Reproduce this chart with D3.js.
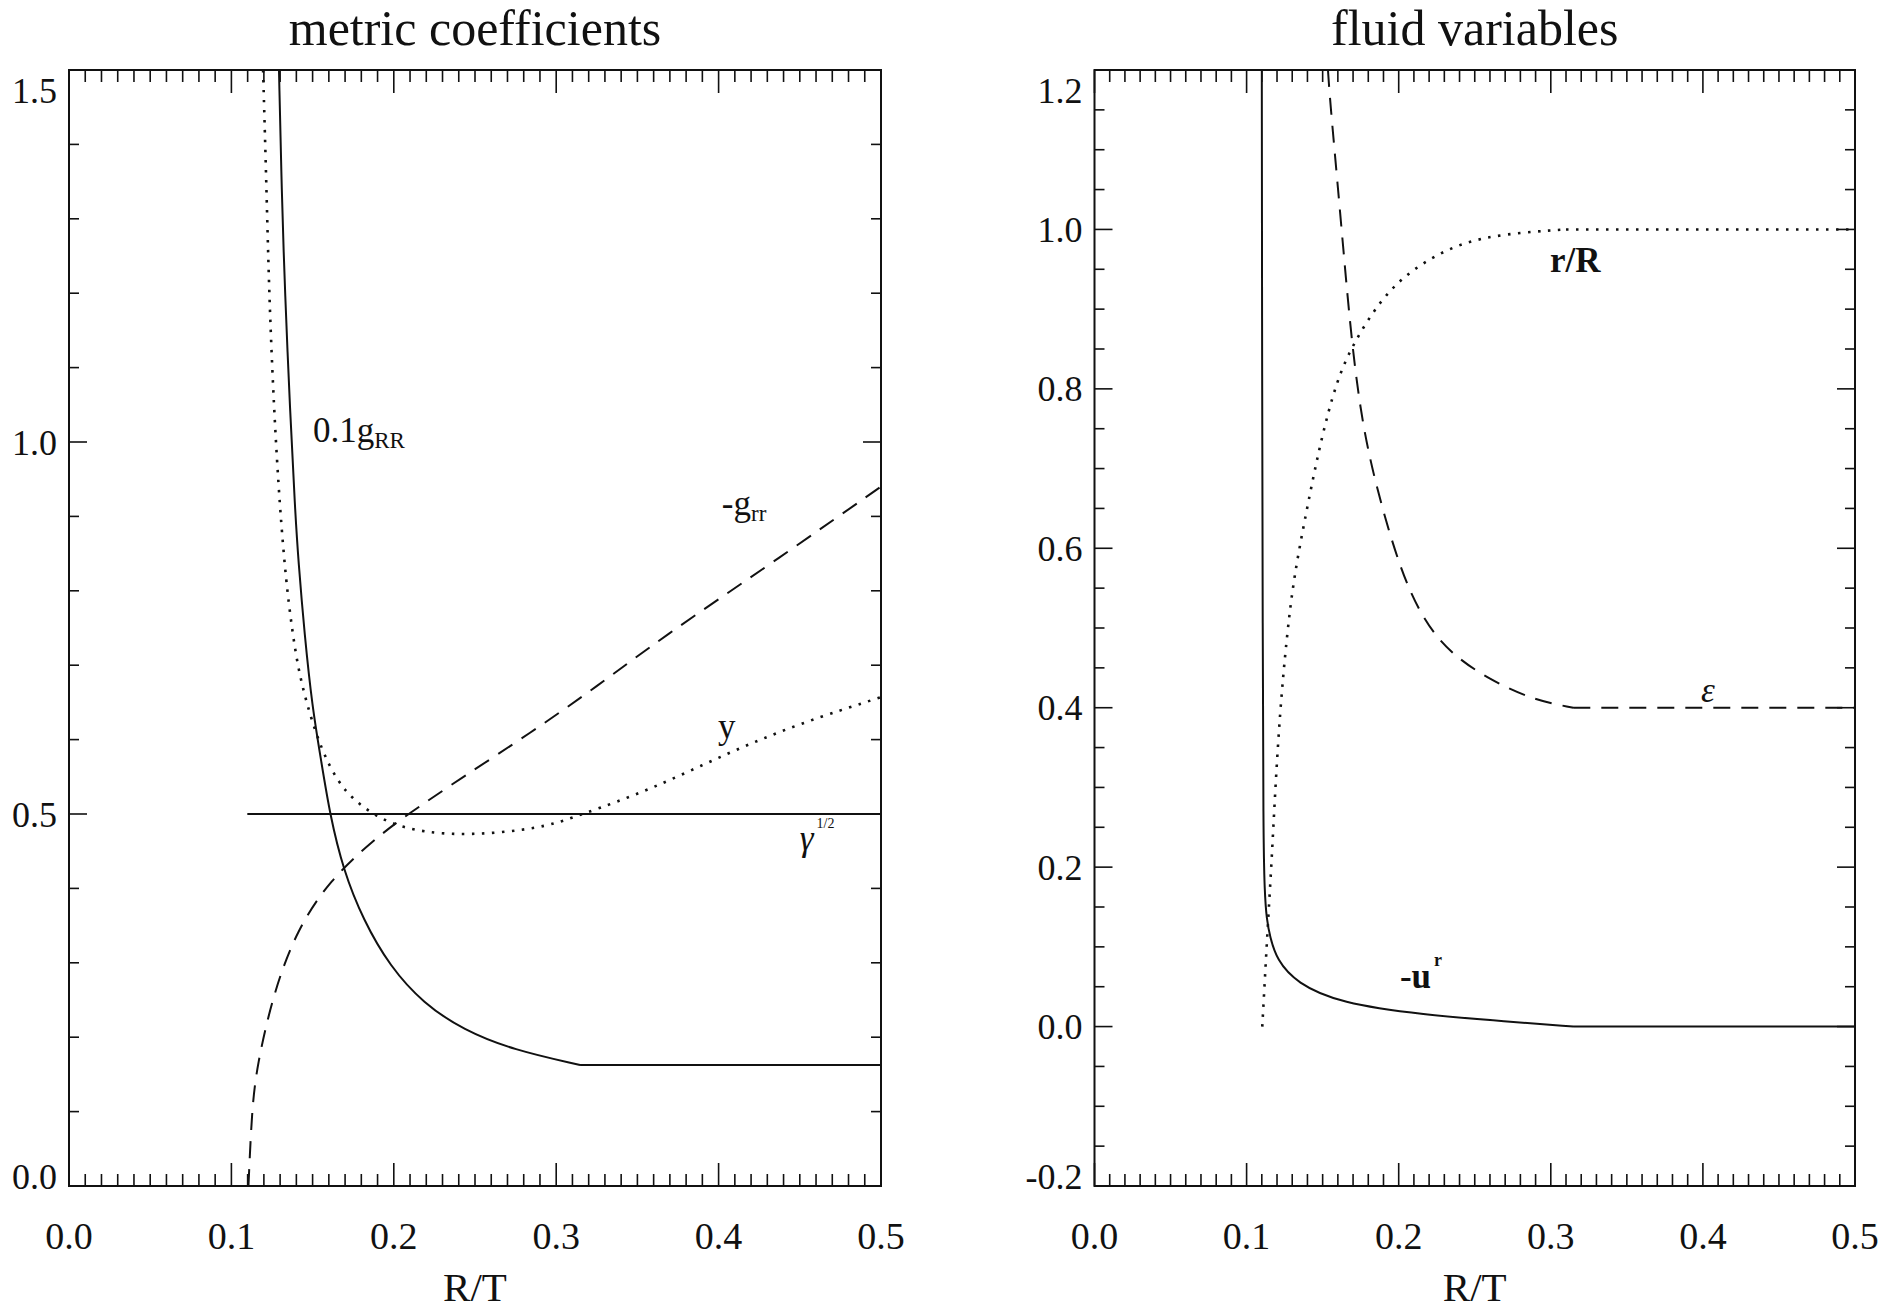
<!DOCTYPE html>
<html>
<head>
<meta charset="utf-8">
<script src="https://cdn.jsdelivr.net/npm/d3@7.9.0/dist/d3.min.js"></script>
<style>
  body { margin: 0; background: #fff; }
  svg text { font-family: "Liberation Serif", "Times New Roman", serif; fill: #111; }
</style>
</head>
<body>
<svg id="chart" width="1882" height="1309"></svg>
<script>
// x ticks shared by both panels
const xMajorTicks = [0.0, 0.1, 0.2, 0.3, 0.4, 0.5];
const xMinorTicks = d3.range(0, 51).map(i => i / 100);

// left panel: metric coefficients  [R/T, value]
const gRR = [[0.1293, 1.5], [0.131, 1.334], [0.133, 1.2], [0.1361, 1.043], [0.1392, 0.909],
  [0.1412, 0.841], [0.1451, 0.740], [0.1498, 0.644], [0.1552, 0.5726], [0.1607, 0.4987],
  [0.1689, 0.4247], [0.1812, 0.3575], [0.1977, 0.2948], [0.2182, 0.2455], [0.2428, 0.2097],
  [0.2736, 0.1828], [0.3147, 0.1626], [0.5, 0.1626]];
const gTT = [[0.1105, 0.0], [0.1126, 0.102], [0.1156, 0.1604], [0.1258, 0.259], [0.1402, 0.344],
  [0.1607, 0.4113], [0.1874, 0.465], [0.2079, 0.4987], [0.2428, 0.5501], [0.2839, 0.6085],
  [0.3249, 0.6711], [0.3659, 0.7383], [0.4296, 0.8324], [0.5, 0.94]];
const yCurve = [[0.1195, 1.5], [0.1217, 1.334], [0.1232, 1.2], [0.1262, 1.043], [0.1299, 0.909],
  [0.1336, 0.8145], [0.1371, 0.7518], [0.1412, 0.6935], [0.1474, 0.6398], [0.1556, 0.586],
  [0.1648, 0.5457], [0.1751, 0.5188], [0.1895, 0.4964], [0.2059, 0.4807], [0.2325, 0.4718],
  [0.2634, 0.474], [0.2941, 0.4829], [0.3147, 0.4987], [0.3578, 0.5323], [0.405, 0.5816],
  [0.4501, 0.622], [0.5, 0.657]];
const gammaHalf = [[0.1098, 0.5], [0.5, 0.5]];
const leftYLabels = [0.0, 0.5, 1.0, 1.5];
const leftYMinor = d3.range(0, 16).map(i => i / 10);

// right panel: fluid variables
const uR = [[0.1100, 1.2], [0.1102, 0.8], [0.1106, 0.5], [0.111, 0.238], [0.1118, 0.17],
  [0.1132, 0.1337], [0.1154, 0.1128], [0.1198, 0.0837], [0.1329, 0.0545], [0.1614, 0.0294],
  [0.2162, 0.0148], [0.271, 0.0064], [0.3148, 0.0], [0.5, 0.0]];
const rOverR = [[0.1103, 0.0], [0.1121, 0.0626], [0.1139, 0.1253], [0.1165, 0.209], [0.1187, 0.2926],
  [0.122, 0.3971], [0.1264, 0.4891], [0.1311, 0.5644], [0.1395, 0.648], [0.1483, 0.7316],
  [0.1592, 0.811], [0.1702, 0.857], [0.1877, 0.911], [0.2074, 0.9487], [0.2381, 0.9826],
  [0.271, 0.995], [0.31, 1.0], [0.5, 1.0]];
const epsilon = [[0.1535, 1.2], [0.1548, 1.1623], [0.1614, 1.0244], [0.168, 0.878], [0.1746, 0.7734],
  [0.1833, 0.6898], [0.2008, 0.5727], [0.2162, 0.51], [0.2337, 0.4683], [0.26, 0.4348],
  [0.2885, 0.4097], [0.3148, 0.4], [0.5, 0.4]];
const rightYLabels = [-0.2, 0.0, 0.2, 0.4, 0.6, 0.8, 1.0, 1.2];
const rightYMinor = d3.range(-4, 25).map(i => i / 20);

const styles = {
  solid: { dash: null, width: 2 },
  dashed: { dash: '17 11', width: 2 },
  dotted: { dash: '2.5 7.5', width: 2.6 }
};

// knee: where the smooth part hands over to a straight segment
const panels = [
  {
    title: 'metric coefficients', left: 69, right: 881, top: 70, bottom: 1186,
    yDomain: [0, 1.5], yLabels: leftYLabels, yMinor: leftYMinor,
    series: [
      { data: gRR, style: 'solid', knee: 0.3147 },
      { data: gTT, style: 'dashed' },
      { data: yCurve, style: 'dotted' },
      { data: gammaHalf, style: 'solid' }
    ],
    notes: [
      { at: [0.1502, 1.0], main: '0.1g', sub: 'RR' },
      { at: [0.402, 0.902], main: '-g', sub: 'rr' },
      { at: [0.3996, 0.602], main: 'y' },
      { at: [0.450, 0.4516], main: 'γ', sup: '1/2', italic: true }
    ]
  },
  {
    title: 'fluid variables', left: 1094.5, right: 1855, top: 70, bottom: 1186,
    yDomain: [-0.2, 1.2], yLabels: rightYLabels, yMinor: rightYMinor,
    series: [
      { data: uR, style: 'solid', knee: 0.3148 },
      { data: rOverR, style: 'dotted', knee: 0.31 },
      { data: epsilon, style: 'dashed', knee: 0.3148 }
    ],
    notes: [
      { at: [0.2995, 0.9466], main: 'r/R', bold: true },
      { at: [0.3987, 0.4072], main: 'ε', italic: true },
      { at: [0.2008, 0.0484], main: '-u', sup: 'r', bold: true }
    ]
  }
];

const svg = d3.select('#chart');
const fmt = v => v.toFixed(1);

panels.forEach((p, pi) => {
  const x = d3.scaleLinear().domain([0, 0.5]).range([p.left, p.right]);
  const y = d3.scaleLinear().domain(p.yDomain).range([p.bottom, p.top]);
  const g = svg.append('g');

  // title and axis label
  g.append('text')
    .attr('x', (p.left + p.right) / 2)
    .attr('y', 45)
    .attr('text-anchor', 'middle')
    .attr('font-size', 50)
    .text(p.title);
  g.append('text')
    .attr('x', (p.left + p.right) / 2)
    .attr('y', 1301)
    .attr('text-anchor', 'middle')
    .attr('font-size', 41)
    .text('R/T');

  // ticks on all four sides, pointing inward
  const ticks = g.append('g').attr('stroke', '#111').attr('stroke-width', 1.6);
  xMinorTicks.forEach(t => {
    const major = xMajorTicks.some(m => Math.abs(m - t) < 1e-9);
    const len = major ? 23 : 12;
    ticks.append('line').attr('x1', x(t)).attr('x2', x(t))
      .attr('y1', p.bottom).attr('y2', p.bottom - len);
    ticks.append('line').attr('x1', x(t)).attr('x2', x(t))
      .attr('y1', p.top).attr('y2', p.top + len);
  });
  p.yMinor.forEach(t => {
    const major = p.yLabels.some(m => Math.abs(m - t) < 1e-9);
    const len = major ? 18 : 10;
    ticks.append('line').attr('y1', y(t)).attr('y2', y(t))
      .attr('x1', p.left).attr('x2', p.left + len);
    ticks.append('line').attr('y1', y(t)).attr('y2', y(t))
      .attr('x1', p.right).attr('x2', p.right - len);
  });

  // frame
  g.append('rect')
    .attr('x', p.left).attr('y', p.top)
    .attr('width', p.right - p.left).attr('height', p.bottom - p.top)
    .attr('fill', 'none').attr('stroke', '#111').attr('stroke-width', 2);

  // tick labels
  xMajorTicks.forEach(t => {
    g.append('text')
      .attr('x', x(t)).attr('y', 1249)
      .attr('text-anchor', 'middle')
      .attr('font-size', 38)
      .text(fmt(t));
  });
  p.yLabels.forEach(t => {
    const cy = Math.min(Math.max(y(t), p.top + 20), p.bottom - 10);
    g.append('text')
      .attr('x', p.left - 12).attr('y', cy)
      .attr('dy', '0.35em')
      .attr('text-anchor', 'end')
      .attr('font-size', 36)
      .text(fmt(t));
  });

  // curves
  const clipId = 'clip' + pi;
  g.append('clipPath').attr('id', clipId)
    .append('rect')
    .attr('x', p.left).attr('y', p.top)
    .attr('width', p.right - p.left).attr('height', p.bottom - p.top);

  const smooth = d3.line().x(d => x(d[0])).y(d => y(d[1])).curve(d3.curveBasis);
  const straight = d3.line().x(d => x(d[0])).y(d => y(d[1]));

  const curves = g.append('g').attr('clip-path', `url(#${clipId})`);
  p.series.forEach(s => {
    const st = styles[s.style];
    const parts = s.knee === undefined
      ? [smooth(s.data)]
      : [smooth(s.data.filter(d => d[0] <= s.knee)),
         straight(s.data.filter(d => d[0] >= s.knee))];
    curves.append('path')
      .attr('d', parts.join(''))
      .attr('fill', 'none')
      .attr('stroke', '#111')
      .attr('stroke-width', st.width)
      .attr('stroke-dasharray', st.dash);
  });

  // curve annotations
  p.notes.forEach(n => {
    const t = g.append('text')
      .attr('x', x(n.at[0])).attr('y', y(n.at[1]))
      .attr('font-size', 35)
      .attr('font-weight', n.bold ? 'bold' : null)
      .attr('font-style', n.italic ? 'italic' : null);
    t.append('tspan').text(n.main);
    if (n.sub) {
      t.append('tspan').attr('font-size', 23).attr('dy', 6).attr('font-style', 'normal').text(n.sub);
    }
    if (n.sup) {
      t.append('tspan').attr('font-size', n.sup.length > 1 ? 14 : 18).attr('dy', -22)
        .attr('dx', 3).attr('font-style', 'normal').text(n.sup);
    }
  });
});
</script>
</body>
</html>
